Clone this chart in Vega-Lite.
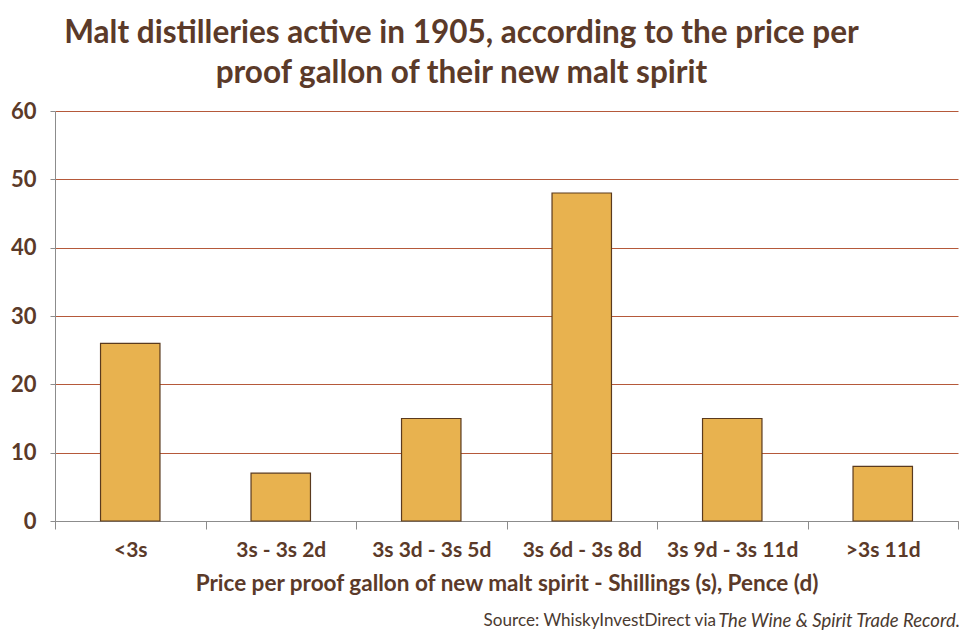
{
  "$schema": "https://vega.github.io/schema/vega-lite/v6.json",
  "width": 903,
  "height": 410,
  "autosize": {"type": "none"},
  "padding": {"left": 55, "top": 111, "right": 16, "bottom": 116},
  "background": "white",
  "title": {
    "text": ["Malt distilleries active in 1905, according to the price per", "proof gallon of their new malt spirit"],
    "font": "Lato",
    "fontSize": 31.5,
    "fontWeight": "bold",
    "color": "#5b3a29",
    "lineHeight": 40,
    "anchor": "middle",
    "dx": -45,
    "offset": 11
  },
  "config": {
    "view": {"stroke": null},
    "font": "Lato"
  },
  "data": {
    "values": [
      {"price": "<3s", "count": 26},
      {"price": "3s - 3s 2d", "count": 7},
      {"price": "3s 3d - 3s 5d", "count": 15},
      {"price": "3s 6d - 3s 8d", "count": 48},
      {"price": "3s 9d - 3s 11d", "count": 15},
      {"price": ">3s 11d", "count": 8}
    ]
  },
  "layer": [
    {
      "mark": {"type": "bar", "fill": "#e8b24f", "stroke": "#5a3a1e", "strokeWidth": 1.2, "width": {"band": 0.395}},
      "encoding": {
        "x": {
          "field": "price",
          "type": "nominal",
          "sort": null,
          "scale": {"paddingInner": 0, "paddingOuter": 0},
          "axis": {
            "title": "Price per proof gallon of new malt spirit - Shillings (s), Pence (d)",
            "labelAngle": 0,
            "labelFont": "Lato",
            "labelFontSize": 21,
            "labelFontWeight": "bold",
            "labelColor": "#5b3a29",
            "labelPadding": 10,
            "tickBand": "extent",
            "tickSize": 8,
            "tickColor": "#8c8c8c",
            "domainColor": "#8c8c8c",
            "titleFont": "Lato",
            "titleFontSize": 22.5,
            "titleFontWeight": "bold",
            "titleColor": "#5b3a29",
            "titlePadding": 12
          }
        },
        "y": {
          "field": "count",
          "type": "quantitative",
          "scale": {"domain": [0, 60], "nice": false},
          "axis": {
            "title": null,
            "values": [0, 10, 20, 30, 40, 50, 60],
            "labelFont": "Lato",
            "labelFontSize": 22,
            "labelFontWeight": "bold",
            "labelColor": "#5b3a29",
            "labelPadding": 14,
            "tickSize": 5,
            "tickColor": "#8c8c8c",
            "domainColor": "#8c8c8c",
            "grid": true,
            "gridColor": "#b5593a",
            "gridWidth": 1
          }
        }
      }
    },
    {
      "data": {"values": [{}]},
      "mark": {"type": "text", "text": "The Wine & Spirit Trade Record.", "font": "Lato", "fontSize": 18.5, "fontStyle": "italic", "color": "#4a3a30", "align": "right", "baseline": "middle", "dx": 2},
      "encoding": {
        "x": {"datum": ">3s 11d", "bandPosition": 1},
        "y": {"datum": -14.6}
      }
    },
    {
      "data": {"values": [{}]},
      "mark": {"type": "text", "text": "Source: WhiskyInvestDirect via", "font": "Lato", "fontSize": 17.1, "color": "#4a3a30", "align": "right", "baseline": "middle", "dx": -242},
      "encoding": {
        "x": {"datum": ">3s 11d", "bandPosition": 1},
        "y": {"datum": -14.6}
      }
    }
  ]
}
